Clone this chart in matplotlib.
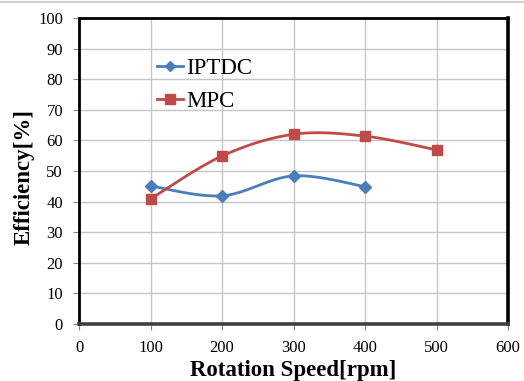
import numpy as np
import matplotlib.pyplot as plt
from matplotlib.lines import Line2D

# Data
speed_iptdc = [100, 200, 300, 400]
eff_iptdc = [45.1, 41.9, 48.4, 44.9]

speed_mpc = [100, 200, 300, 400, 500]
eff_mpc = [40.9, 54.9, 62.0, 61.4, 56.9]

x_ticks = [0, 100, 200, 300, 400, 500, 600]
y_ticks = [0, 10, 20, 30, 40, 50, 60, 70, 80, 90, 100]

BLUE = "#4a7ebb"
RED = "#be4b48"


def smooth(xs, ys, n=40):
    # Excel-like smoothed line (Catmull-Rom bezier)
    xs = np.asarray(xs, float)
    ys = np.asarray(ys, float)
    px = np.concatenate([[xs[0]], xs, [xs[-1]]])
    py = np.concatenate([[ys[0]], ys, [ys[-1]]])
    out_x, out_y = [], []
    for i in range(1, len(px) - 2):
        p0 = np.array([px[i], py[i]])
        p3 = np.array([px[i + 1], py[i + 1]])
        p1 = p0 + (np.array([px[i + 1], py[i + 1]]) - np.array([px[i - 1], py[i - 1]])) / 6
        p2 = p3 - (np.array([px[i + 2], py[i + 2]]) - np.array([px[i], py[i]])) / 6
        t = np.linspace(0, 1, n)[:, None]
        pts = (1 - t) ** 3 * p0 + 3 * (1 - t) ** 2 * t * p1 + 3 * (1 - t) * t ** 2 * p2 + t ** 3 * p3
        out_x.extend(pts[:, 0])
        out_y.extend(pts[:, 1])
    return out_x, out_y


plt.rcParams["font.family"] = "Liberation Serif"

fig = plt.figure(figsize=(5.24, 3.81), dpi=100)
ax = fig.add_axes([0.1508, 0.1496, 0.8187, 0.8032])

fig.add_artist(Line2D([0, 1], [0.994, 0.994], transform=fig.transFigure,
                      color="#c8c8c8", lw=1.2))

sx, sy = smooth(speed_iptdc, eff_iptdc)
ax.plot(sx, sy, color=BLUE, lw=2, zorder=3)
ax.plot(speed_iptdc, eff_iptdc, ls="none", marker="D", ms=6, color=BLUE, zorder=4)

sx, sy = smooth(speed_mpc, eff_mpc)
ax.plot(sx, sy, color=RED, lw=2, zorder=3)
ax.plot(speed_mpc, eff_mpc, ls="none", marker="s", ms=7, color=RED, zorder=4)

ax.set_xlim(0, 600)
ax.set_ylim(0, 100)
ax.set_xticks(x_ticks)
ax.set_yticks(y_ticks)
ax.tick_params(labelsize=12, length=4, width=0.8, color="#888888", pad=7.5)
ax.grid(True, color="#c6c6c6", lw=1)
ax.set_axisbelow(True)

for side in ["left", "top"]:
    ax.spines[side].set_linewidth(2)
    ax.spines[side].set_color("black")
ax.spines["right"].set_linewidth(2.6)
ax.spines["right"].set_color("black")
ax.spines["bottom"].set_linewidth(2.6)
ax.spines["bottom"].set_color("#404040")

ax.set_xlabel("Rotation Speed[rpm]", fontsize=16.5, fontweight="bold", labelpad=3)
ax.set_ylabel("Efficiency[%]", fontsize=16.5, fontweight="bold")
ax.yaxis.set_label_coords(-0.103, 0.48)

handles = [
    Line2D([], [], color=BLUE, lw=2, marker="D", ms=5),
    Line2D([], [], color=RED, lw=2, marker="s", ms=7),
]
ax.legend(handles, ["IPTDC", "MPC"], loc="upper left", bbox_to_anchor=(0.16, 0.9),
          frameon=False, fontsize=16.5, handlelength=1.15, handletextpad=0.12,
          labelspacing=0.55, borderaxespad=0)

fig.savefig("out.png", dpi=100)
